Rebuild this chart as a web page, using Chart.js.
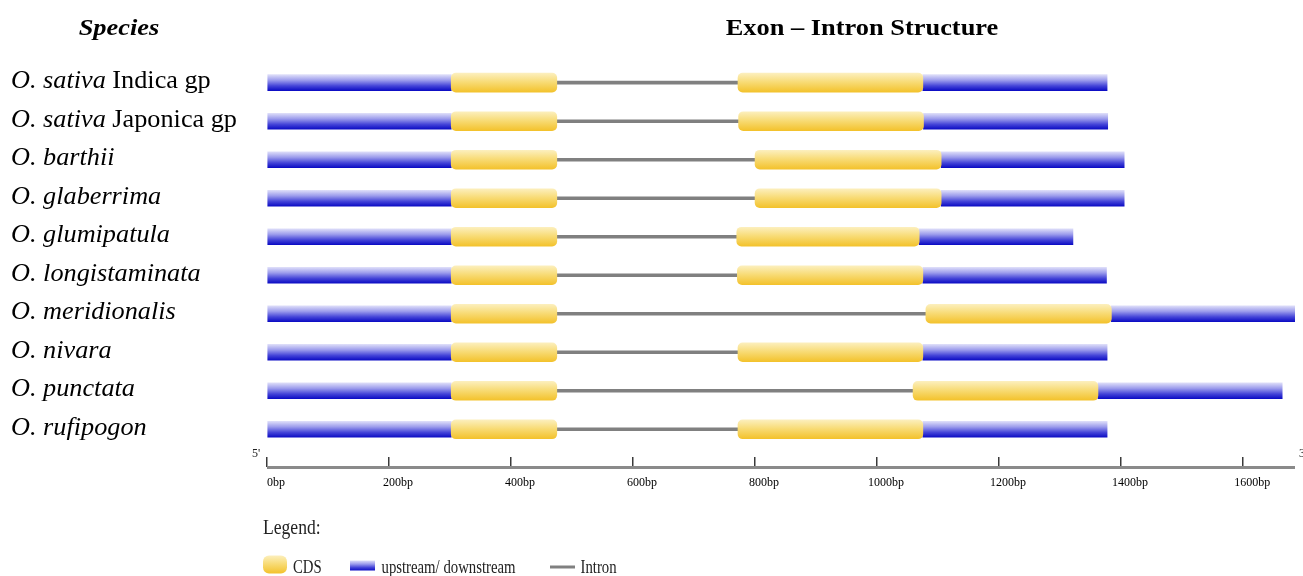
<!DOCTYPE html>
<html>
<head>
<meta charset="utf-8">
<script src="https://cdn.jsdelivr.net/npm/chart.js@4.4.1/dist/chart.umd.min.js"></script>
<style>
  html, body { margin: 0; padding: 0; background: #ffffff; }
  #wrap { position: relative; width: 1303px; height: 576px; }
</style>
</head>
<body>
<div id="wrap"><canvas id="c"></canvas></div>
<script>
// ---- data (bp positions) ----
const speciesItalic = ['O. sativa', 'O. sativa', 'O. barthii', 'O. glaberrima', 'O. glumipatula',
  'O. longistaminata', 'O. meridionalis', 'O. nivara', 'O. punctata', 'O. rufipogon'];
const speciesSuffix = [' Indica gp', ' Japonica gp', '', '', '', '', '', '', '', ''];

const geneStart = [0, 0, 0, 0, 0, 0, 0, 0, 0, 0];
const cds1Start = [302, 302, 302, 302, 302, 302, 302, 302, 302, 302];
const cds1End   = [475, 475, 475, 475, 475, 475, 475, 475, 475, 475];
const cds2Start = [772, 773, 800, 800, 770, 771, 1080, 772, 1059, 772];
const cds2End   = [1075, 1076, 1105, 1105, 1069, 1075, 1384, 1075, 1362, 1075];
const geneEnd   = [1377, 1378, 1405, 1405, 1321, 1376, 1685, 1377, 1664, 1377];

const tickValues = [0, 200, 400, 600, 800, 1000, 1200, 1400, 1600];
const tickLabels = ['0bp', '200bp', '400bp', '600bp', '800bp', '1000bp', '1200bp', '1400bp', '1600bp'];
const axisMax = 1685;

const legendTitle = 'Legend:';
const legendItems = ['CDS', 'upstream/ downstream', 'Intron'];
const titleText = 'Exon \u2013 Intron Structure';
const speciesHeader = 'Species';

// ---- styles ----
const SERIF = '"Liberation Serif", "Times New Roman", serif';
const blueStops = [[0, '#dedef9'], [0.35, '#9c9cec'], [0.7, '#4444d8'], [1, '#0c0cc4']];
const yellowStops = [[0, '#fcefbd'], [0.45, '#f8dc78'], [1, '#f3c22c']];

function vGrad(stops, half) {
  return (ctx) => {
    const chart = ctx.chart;
    const ys = chart.scales && chart.scales.y;
    if (!chart.chartArea || !ys || ctx.type !== 'data' || !ctx.raw) return stops[stops.length - 1][1];
    const yc = ys.getPixelForValue(ctx.raw.y);
    const g = chart.ctx.createLinearGradient(0, yc - half, 0, yc + half);
    stops.forEach(([o, c]) => g.addColorStop(o, c));
    return g;
  };
}

const rows = speciesItalic.map((_, i) => i);
const seg = (a, b) => rows.map(i => ({ x: [a[i], b[i]], y: i }));

const cdsStyle = {
  backgroundColor: vGrad(yellowStops, 9.5),
  borderWidth: 0, borderRadius: 5, borderSkipped: false,
  barThickness: 19, grouped: false
};
const utrStyle = {
  backgroundColor: vGrad(blueStops, 8),
  borderWidth: 0, borderSkipped: false,
  barThickness: 16, grouped: false
};

const decor = {
  id: 'decor',
  afterDraw(chart) {
    const { ctx, scales: { x, y } } = chart;
    const axisY = chart.chartArea.bottom + 10.5;
    ctx.save();
    // axis line
    ctx.strokeStyle = '#8a8a8a';
    ctx.lineWidth = 3;
    ctx.beginPath();
    ctx.moveTo(x.left, axisY);
    ctx.lineTo(x.right, axisY);
    ctx.stroke();

    // 5' / 3'
    ctx.fillStyle = '#222';
    ctx.font = '12px ' + SERIF;
    ctx.textBaseline = 'alphabetic';
    ctx.textAlign = 'left';
    ctx.fillText("5'", x.left - 15, axisY - 11);
    ctx.fillText("3'", x.right + 4, axisY - 11);

    // species labels
    ctx.fillStyle = '#000';
    rows.forEach(i => {
      const yb = y.getPixelForValue(i) + 5.6;
      ctx.save();
      ctx.translate(11, yb);
      ctx.scale(1.05, 1);
      ctx.font = 'italic 25px ' + SERIF;
      ctx.fillText(speciesItalic[i], 0, 0);
      const w = ctx.measureText(speciesItalic[i]).width;
      if (speciesSuffix[i]) {
        ctx.font = '25px ' + SERIF;
        ctx.fillText(speciesSuffix[i], w, 0);
      }
      ctx.restore();
    });

    // headers
    ctx.textAlign = 'center';
    ctx.save();
    ctx.translate(119, 34.5);
    ctx.scale(1.1, 1);
    ctx.font = 'italic bold 24px ' + SERIF;
    ctx.fillText(speciesHeader, 0, 0);
    ctx.restore();
    ctx.save();
    ctx.translate(862, 34.5);
    ctx.scale(1.1, 1);
    ctx.font = 'bold 24px ' + SERIF;
    ctx.fillText(titleText, 0, 0);
    ctx.restore();

    // legend
    const lx = x.left - 4;
    ctx.textAlign = 'left';
    ctx.fillStyle = '#222';
    ctx.save();
    ctx.translate(lx, 534);
    ctx.scale(0.8, 1);
    ctx.font = '22px ' + SERIF;
    ctx.fillText(legendTitle, 0, 0);
    ctx.restore();

    const iy = 564.5;
    // CDS swatch
    let g = ctx.createLinearGradient(0, iy - 9, 0, iy + 9);
    yellowStops.forEach(([o, c]) => g.addColorStop(o, c));
    ctx.fillStyle = g;
    ctx.beginPath();
    if (ctx.roundRect) ctx.roundRect(lx, iy - 9, 24, 18, 6); else ctx.rect(lx, iy - 9, 24, 18);
    ctx.fill();
    // UTR swatch
    g = ctx.createLinearGradient(0, iy - 4, 0, iy + 6);
    blueStops.forEach(([o, c]) => g.addColorStop(o, c));
    ctx.fillStyle = g;
    ctx.fillRect(lx + 87, iy - 4, 25, 10);
    // intron swatch
    ctx.strokeStyle = '#808080';
    ctx.lineWidth = 3;
    ctx.beginPath();
    ctx.moveTo(lx + 287, iy + 2.5);
    ctx.lineTo(lx + 312, iy + 2.5);
    ctx.stroke();

    ctx.fillStyle = '#222';
    const texts = [[lx + 30, legendItems[0]], [lx + 118.5, legendItems[1]], [lx + 317.5, legendItems[2]]];
    texts.forEach(([tx, t]) => {
      ctx.save();
      ctx.translate(tx, 572.5);
      ctx.scale(0.82, 1);
      ctx.font = '18px ' + SERIF;
      ctx.fillText(t, 0, 0);
      ctx.restore();
    });
    ctx.restore();
  }
};

new Chart(document.getElementById('c'), {
  type: 'bar',
  data: {
    datasets: [
      Object.assign({ label: 'CDS', data: seg(cds1Start, cds1End) }, cdsStyle),
      Object.assign({ label: 'CDS', data: seg(cds2Start, cds2End) }, cdsStyle),
      Object.assign({ label: 'upstream', data: seg(geneStart, cds1Start) }, utrStyle),
      Object.assign({ label: 'downstream', data: seg(cds2End, geneEnd) }, utrStyle),
      { label: 'Intron', data: seg(cds1End, cds2Start), backgroundColor: '#808080',
        borderWidth: 0, barThickness: 3, grouped: false }
    ]
  },
  options: {
    indexAxis: 'y',
    responsive: true,
    maintainAspectRatio: false,
    animation: false,
    devicePixelRatio: 1,
    events: [],
    layout: { padding: { left: 267, right: 8, top: 63.45, bottom: 0 } },
    plugins: { legend: { display: false }, title: { display: false }, tooltip: { enabled: false } },
    scales: {
      y: { type: 'linear', display: false, reverse: true, offset: false, min: -0.5, max: 9.72,
           grid: { offset: false } },
      x: {
        type: 'linear', position: 'bottom', min: 0, max: axisMax, offset: false,
        afterFit: (s) => { s.height = 119; },
        afterBuildTicks: (s) => { s.ticks = tickValues.map(v => ({ value: v })); },
        border: { display: false },
        grid: { drawOnChartArea: false, drawTicks: true, tickLength: 10, color: '#3a3a3a', lineWidth: 1.5 },
        ticks: {
          autoSkip: false, maxRotation: 0, minRotation: 0, padding: 9, labelOffset: 9,
          color: '#000', font: { family: SERIF, size: 12 },
          callback: (v) => tickLabels[tickValues.indexOf(v)]
        }
      }
    }
  },
  plugins: [decor]
});
</script>
</body>
</html>
